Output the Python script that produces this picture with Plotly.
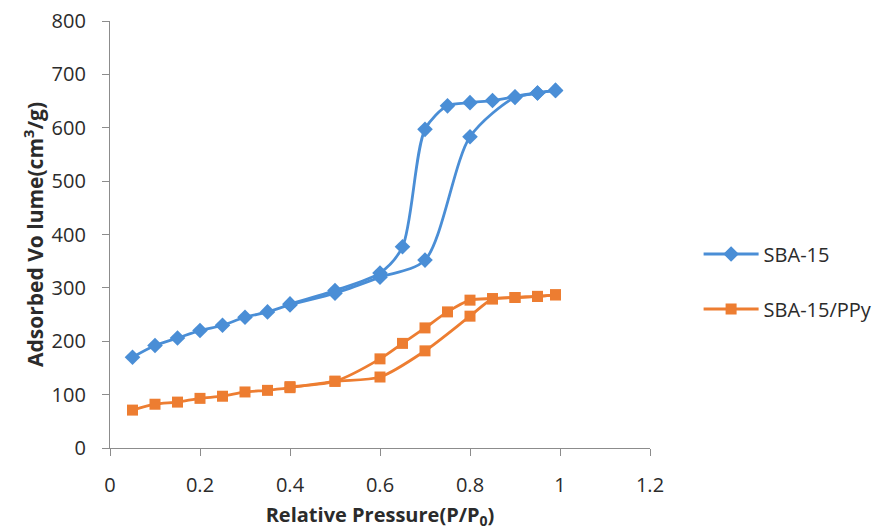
import plotly.graph_objects as go

# SBA-15 isotherm
sba_ads_x = [0.05, 0.10, 0.15, 0.20, 0.25, 0.30, 0.35, 0.40, 0.50, 0.60, 0.70, 0.80, 0.90, 0.95, 0.99]
sba_ads_y = [170, 192, 206, 220, 230, 245, 255, 268, 290, 320, 352, 583, 657, 665, 670]
sba_des_x = [0.99, 0.95, 0.90, 0.85, 0.80, 0.75, 0.70, 0.65, 0.60, 0.50, 0.40]
sba_des_y = [670, 665, 658, 651, 647, 641, 597, 377, 328, 295, 270]

# SBA-15/PPy isotherm
ppy_ads_x = [0.05, 0.10, 0.15, 0.20, 0.25, 0.30, 0.35, 0.40, 0.50, 0.60, 0.70, 0.80, 0.85, 0.90, 0.95, 0.99]
ppy_ads_y = [71, 82, 86, 93, 97, 105, 108, 113, 125, 133, 182, 247, 279, 282, 284, 287]
ppy_des_x = [0.99, 0.95, 0.90, 0.85, 0.80, 0.75, 0.70, 0.65, 0.60, 0.50, 0.40]
ppy_des_y = [287, 284, 282, 280, 277, 255, 225, 196, 167, 125, 115]

x_ticks = [0, 0.2, 0.4, 0.6, 0.8, 1, 1.2]
x_ticklabels = ["0", "0.2", "0.4", "0.6", "0.8", "1", "1.2"]
y_ticks = [0, 100, 200, 300, 400, 500, 600, 700, 800]

BLUE = "#4A8ED6"
ORANGE = "#ED7D31"
FONT = "Open Sans"
TXT = "#2b2b2b"

fig = go.Figure()

def add(x, y, name, color, symbol, size, show):
    fig.add_trace(go.Scatter(
        x=x, y=y, name=name, legendgroup=name, showlegend=show,
        mode="lines+markers",
        line=dict(color=color, width=2.8, shape="spline", smoothing=0.8),
        marker=dict(color=color, symbol=symbol, size=size),
    ))

add(sba_ads_x, sba_ads_y, "SBA-15", BLUE, "diamond", 12, True)
add(sba_des_x, sba_des_y, "SBA-15", BLUE, "diamond", 12, False)
add(ppy_ads_x, ppy_ads_y, "SBA-15/PPy", ORANGE, "square", 11, True)
add(ppy_des_x, ppy_des_y, "SBA-15/PPy", ORANGE, "square", 11, False)

axis_common = dict(
    showgrid=False, zeroline=False, showline=True, linecolor="#8c8c8c", linewidth=1.3,
    ticks="outside", ticklen=7, tickcolor="#8c8c8c", tickwidth=1.3,
    ticklabelstandoff=12,
    tickfont=dict(family=FONT, size=20, color=TXT),
)

fig.update_layout(
    width=885, height=531,
    margin=dict(l=110, r=235, t=21, b=83, autoexpand=False),
    paper_bgcolor="white", plot_bgcolor="white",
    font=dict(family=FONT, color=TXT),
    xaxis=dict(range=[0, 1.2], tickvals=x_ticks, ticktext=x_ticklabels,
               title=dict(text="<b>Relative Pressure(P/P<sub>0</sub>)</b>",
                          font=dict(family=FONT, size=20, color=TXT), standoff=10),
               **axis_common),
    yaxis=dict(range=[0, 800], tickvals=y_ticks,
               title=dict(text="<b>Adsorbed Vo lume(cm<sup>3</sup>/g)</b>",
                          font=dict(family=FONT, size=21, color=TXT), standoff=2),
               **axis_common),
    legend=dict(x=1.09, y=0.5, xanchor="left", yanchor="top",
                font=dict(family=FONT, size=20, color=TXT),
                itemwidth=55,
                tracegroupgap=26, bgcolor="rgba(0,0,0,0)"),
)

fig.write_html("out.html")
